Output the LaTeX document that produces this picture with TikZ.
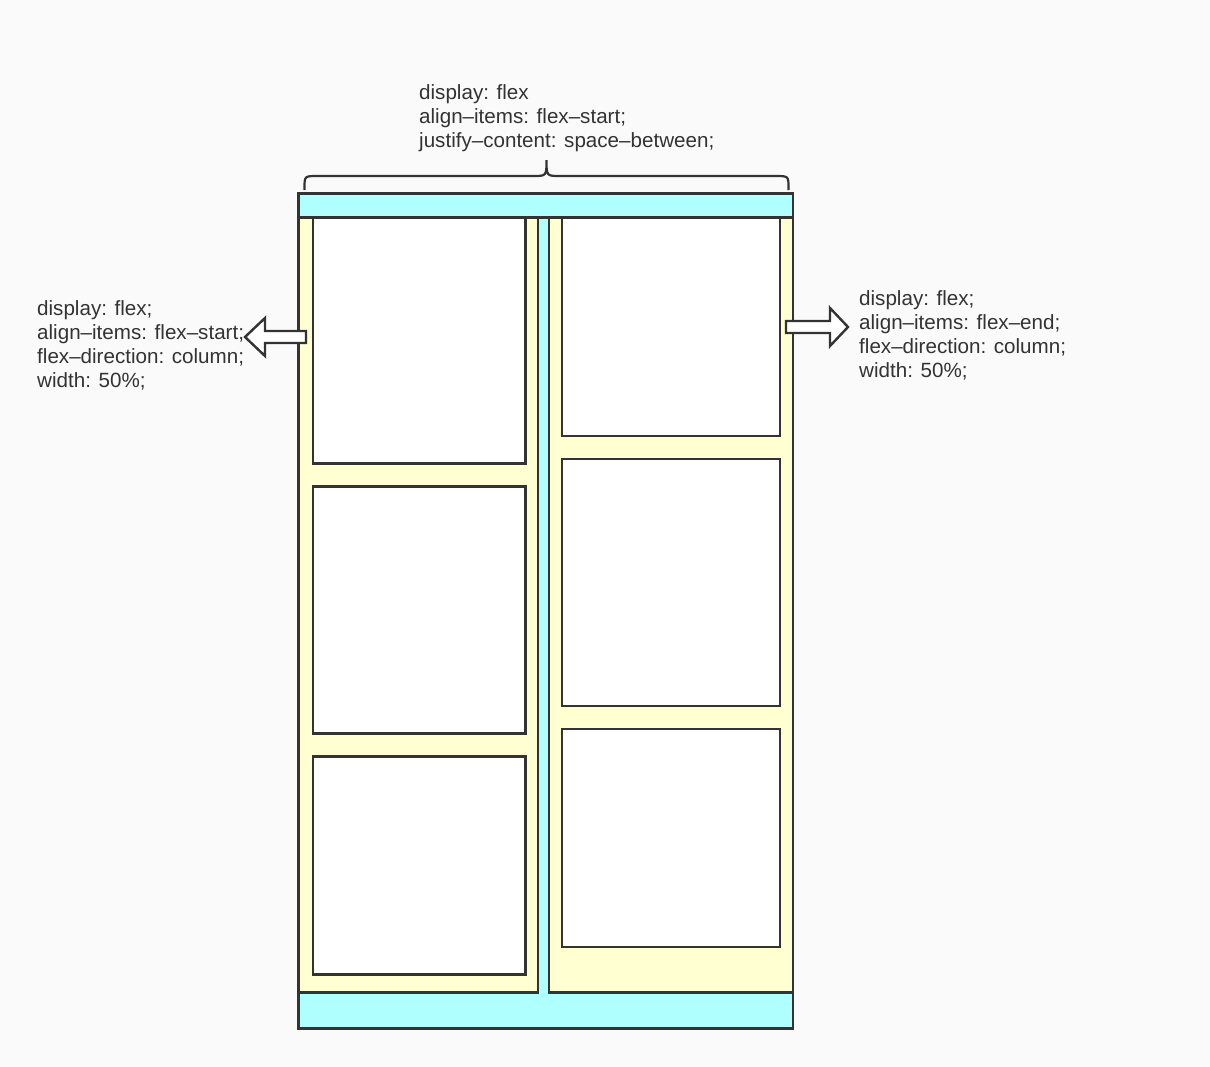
\documentclass[tikz,border=0pt]{standalone}
\usepackage{fontspec}
\setmainfont{Liberation Sans}
\definecolor{bggray}{HTML}{FAFAFA}
\definecolor{linegray}{HTML}{333333}
\definecolor{textgray}{HTML}{333333}
\definecolor{bandcyan}{HTML}{AFFFFF}
\definecolor{colyellow}{HTML}{FFFFD1}

\begin{document}
\begin{tikzpicture}[x=1pt, y=-1pt,
  frame/.style={draw=linegray, line width=2.6pt},
  band/.style={frame, fill=bandcyan},
  column/.style={frame, fill=colyellow},
  item/.style={frame, fill=white},
  fatarrow/.style={draw=linegray, fill=white, line width=2.4pt, line join=miter},
  bracket/.style={draw=linegray, line width=2.2pt},
  note/.style={align=left, anchor=north west, inner sep=0pt, text=textgray,
               font=\fontsize{20.6}{24}\selectfont}]
  \fill[bggray] (0,0) rectangle (1210,1066);
  \useasboundingbox (0,0) rectangle (1210,1066);

  % container and its two columns
  \draw[band] (298.7,193.3) rectangle (793,1028.7);
  \draw[column] (298.7,217.3) rectangle (538,992.7);
  \draw[column] (549,217.3) rectangle (793,992.7);
  \draw[frame] (298.7,217.3) -- (793,217.3);

  % items, left column
  \foreach \top/\bot in {217.3/463.7, 486.3/733.7, 756.3/974.7}
    \draw[item] (313,\top) rectangle (525.7,\bot);
  % items, right column
  \foreach \top/\bot in {217.3/436, 459/706, 729/947}
    \draw[item] (562,\top) rectangle (780,\bot);

  % brace over the container
  \draw[bracket] (304.5,190) -- (304.5,188) .. controls (304.5,176) .. (318,176)
    -- (533,176) .. controls (546.5,176) .. (546.5,160)
    .. controls (546.5,176) .. (560,176) -- (775,176)
    .. controls (788.5,176) .. (788.5,188) -- (788.5,190);

  \node[note] (flexnote) at (419,84.5)
    {display: flex\\align–items: flex–start;\\justify–content: space–between;};
  \node[note] (leftnote) at (37,300)
    {display: flex;\\align–items: flex–start;\\flex–direction: column;\\width: 50\%;};
  \node[note] (rightnote) at (859,290)
    {display: flex;\\align–items: flex–end;\\flex–direction: column;\\width: 50\%;};

  % block arrows
  \coordinate (ltip) at (245,337);
  \coordinate (rtip) at (848,327);
  \draw[fatarrow] (ltip) -- ++(20,-19) -- ++(0,13) -- ++(41,0) -- ++(0,12)
    -- ++(-41,0) -- ++(0,13) -- cycle;
  \draw[fatarrow] (rtip) -- ++(-18,-19) -- ++(0,13) -- ++(-44,0) -- ++(0,12)
    -- ++(44,0) -- ++(0,13) -- cycle;
\end{tikzpicture}
\end{document}
